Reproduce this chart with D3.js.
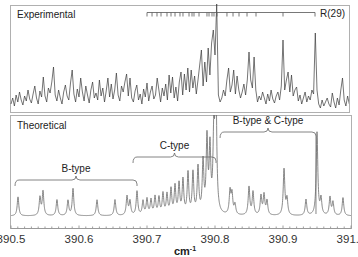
<!DOCTYPE html>
<html>
<head>
<meta charset="utf-8">
<script src="https://cdn.jsdelivr.net/npm/d3@7"></script>
<style>
  body { margin: 0; background: #fff; }
  svg { display: block; font-family: "Liberation Sans", Arial, sans-serif; }
</style>
</head>
<body>
<div id="chart"></div>
<script>
// wavenumber axis (cm-1)
const waveDomain = [390.5, 391.0];
const majorTicks = [390.5, 390.6, 390.7, 390.8, 390.9, 391.0];
const tickLabels = ["390.5", "390.6", "390.7", "390.8", "390.9", "391.0"];

// experimental trace, sampled from 390.5 every 0.0025 cm-1
const expStart = 390.5;
const expStep = 0.0025;
const expIntensity = [
  6,12,4,15,8,18,10,5,14,9,
  20,11,7,16,24,12,6,19,13,33,
  14,8,22,17,28,43,15,9,20,12,
  6,18,25,14,10,27,40,16,8,21,
  13,32,18,9,24,15,7,20,28,12,
  17,10,30,14,22,8,19,32,13,26,
  11,20,37,15,9,24,18,28,36,14,
  32,12,8,19,25,10,16,6,21,13,
  27,9,18,24,11,15,32,20,8,22,
  14,26,10,35,17,33,12,23,9,28,
  38,15,36,20,42,18,40,22,34,16,
  30,45,60,24,48,28,62,35,67,80,
  55,106,15,8,12,20,14,30,42,18,
  25,40,16,34,20,12,18,26,15,30,
  58,30,22,53,20,8,14,10,18,12,
  6,16,9,20,11,7,14,18,10,24,
  70,20,30,38,18,35,14,20,23,9,
  15,6,12,18,8,14,10,20,16,77,
  20,6,2,10,4,8,12,6,3,17,
  8,2,12,5,20,32,10,4,14,6,
  9
];

// R-branch assignment comb, ending at R(29)
const combLines = [
  390.7000, 390.7074, 390.7147, 390.7206, 390.7294, 390.7353, 390.7412,
  390.7485, 390.7529, 390.7618, 390.7662, 390.7691, 390.7765, 390.7882,
  390.7912, 390.7956, 390.7985, 390.8029, 390.8176, 390.8265, 390.8353,
  390.8471, 390.8603, 390.9000, 390.9471
];
const combLabel = "R(29)";

// theoretical line list: positions and peak heights
const theoLines = [
  390.5103, 390.5426, 390.5471, 390.5676, 390.5838, 390.5912, 390.6265,
  390.6529, 390.6706, 390.6750, 390.6853,
  390.6941, 390.7000, 390.7059, 390.7118, 390.7176, 390.7235, 390.7294,
  390.7353, 390.7412, 390.7471, 390.7529, 390.7603, 390.7676, 390.7750,
  390.7824, 390.7882, 390.7926, 390.7982, 390.8012,
  390.8221, 390.8250, 390.8294, 390.8500, 390.8559, 390.8676, 390.8721,
  390.8765, 390.9015, 390.9059, 390.9338, 390.9500, 390.9559, 390.9691,
  390.9735, 390.9882
];
const theoHeights = [
  19, 18, 24, 16, 15, 27, 16,
  16, 19, 14, 24,
  14, 16, 15, 18, 17, 21, 20,
  25, 28, 30, 34, 41, 41, 46,
  51, 73, 63, 70, 140,
  23, 20, 10, 28, 23, 19, 20,
  14, 46, 16, 16, 83, 16, 18,
  13, 18
];
const lineWidth = 0.0014;

// band-type braces (wavenumber span, height in theoretical units)
const braceLabels = ["B-type", "C-type", "B-type & C-type"];
const braceFrom = [390.5059, 390.6794, 390.8074];
const braceTo = [390.6853, 390.8015, 390.9485];
const braceLevel = [36, 59, 84];

class SpectrumVis {

  constructor(parentElement) {
    this.parentElement = parentElement;
    this.initVis();
  }

  initVis() {
    let vis = this;

    vis.width = 358;
    vis.height = 257;

    vis.svg = d3.select("#" + vis.parentElement).append("svg")
      .attr("width", vis.width)
      .attr("height", vis.height);

    vis.x = d3.scaleLinear().domain(waveDomain).range([11, 351]);
    vis.yExp = d3.scaleLinear().domain([0, 100]).range([110, 10]);
    vis.yTheo = d3.scaleLinear().domain([0, 100]).range([216, 116]);

    vis.top = {x: 10, y: 5, w: 339, h: 107};
    vis.bottom = {x: 10, y: 115, w: 341, h: 113};

    let defs = vis.svg.append("defs");
    defs.append("clipPath").attr("id", "clip-top").append("rect")
      .attr("x", vis.top.x).attr("y", vis.top.y - 1).attr("width", vis.top.w).attr("height", vis.top.h + 1);
    defs.append("clipPath").attr("id", "clip-bottom").append("rect")
      .attr("x", vis.bottom.x).attr("y", vis.bottom.y).attr("width", vis.bottom.w).attr("height", vis.bottom.h);

    [vis.top, vis.bottom].forEach(p => {
      vis.svg.append("rect")
        .attr("x", p.x + 0.5).attr("y", p.y + 0.5)
        .attr("width", p.w).attr("height", p.h)
        .attr("fill", "none")
        .attr("stroke", "#b0b0b0")
        .attr("stroke-width", 1);
    });

    vis.drawExperimental();
    vis.drawTheoretical();
    vis.drawAxis();
  }

  drawExperimental() {
    let vis = this;

    let points = expIntensity.map((d, i) => [expStart + i * expStep, d]);

    vis.svg.append("path")
      .datum(points)
      .attr("clip-path", "url(#clip-top)")
      .attr("fill", "none")
      .attr("stroke", "#3a3a3a")
      .attr("stroke-width", 0.7)
      .attr("d", d3.line().x(d => vis.x(d[0])).y(d => vis.yExp(d[1])));

    vis.svg.append("text")
      .attr("x", 17).attr("y", 18)
      .attr("font-size", "10px")
      .attr("fill", "#222")
      .text("Experimental");

    // assignment comb
    let combY = 12.5;
    let comb = vis.svg.append("g")
      .attr("stroke", "#555")
      .attr("stroke-width", 0.8);

    comb.append("line")
      .attr("x1", vis.x(combLines[0])).attr("x2", vis.x(combLines[combLines.length - 1]))
      .attr("y1", combY).attr("y2", combY);

    comb.selectAll("line.tick")
      .data(combLines)
      .join("line")
      .attr("class", "tick")
      .attr("x1", d => vis.x(d)).attr("x2", d => vis.x(d))
      .attr("y1", combY).attr("y2", combY + 4);

    vis.svg.append("text")
      .attr("x", vis.x(combLines[combLines.length - 1]) + 5)
      .attr("y", 17)
      .attr("font-size", "10px")
      .attr("fill", "#222")
      .text(combLabel);
  }

  drawTheoretical() {
    let vis = this;

    // lorentzian profile of the line list
    let grid = d3.range(waveDomain[0], waveDomain[1] + 0.0002, 0.0002);
    theoLines.forEach(v => grid.push(v));
    grid.sort((a, b) => a - b);
    let g2 = lineWidth * lineWidth;
    let profile = grid.map(v => {
      let s = 0;
      theoLines.forEach((c, i) => {
        s += theoHeights[i] * g2 / ((v - c) * (v - c) + g2);
      });
      return [v, s];
    });

    vis.svg.append("path")
      .datum(profile)
      .attr("clip-path", "url(#clip-bottom)")
      .attr("fill", "none")
      .attr("stroke", "#6a6a6a")
      .attr("stroke-width", 0.8)
      .attr("d", d3.line().x(d => vis.x(d[0])).y(d => vis.yTheo(d[1])));

    vis.svg.append("text")
      .attr("x", 17).attr("y", 129)
      .attr("font-size", "10px")
      .attr("fill", "#222")
      .text("Theoretical");

    // braces
    braceLabels.forEach((label, i) => {
      let x1 = vis.x(braceFrom[i]);
      let x2 = vis.x(braceTo[i]);
      let y = vis.yTheo(braceLevel[i]);
      let xm = (x1 + x2) / 2;
      let r = 4;
      let drop = i === 2 ? vis.yTheo(0) - 2 - y : 6;
      let path = `M${x1},${y + 6}Q${x1},${y} ${x1 + r},${y}` +
        `L${xm - r},${y}Q${xm},${y} ${xm},${y - r}Q${xm},${y} ${xm + r},${y}` +
        `L${x2 - r},${y}Q${x2},${y} ${x2},${y + r}L${x2},${y + Math.max(drop, 6)}`;
      vis.svg.append("path")
        .attr("d", path)
        .attr("fill", "none")
        .attr("stroke", "#666")
        .attr("stroke-width", 0.8);
      vis.svg.append("text")
        .attr("x", xm).attr("y", y - 8)
        .attr("text-anchor", "middle")
        .attr("font-size", "10px")
        .attr("fill", "#222")
        .text(label);
    });
  }

  drawAxis() {
    let vis = this;
    let axisY = 228.5;

    let minor = d3.range(0, 51).map(i => waveDomain[0] + i * 0.01);
    vis.svg.append("g")
      .selectAll("line")
      .data(minor)
      .join("line")
      .attr("x1", d => vis.x(d)).attr("x2", d => vis.x(d))
      .attr("y1", axisY).attr("y2", (d, i) => i % 10 === 0 ? axisY - 3 : axisY - 2)
      .attr("stroke", "#888")
      .attr("stroke-width", 0.8);

    vis.svg.append("line")
      .attr("x1", vis.x(waveDomain[0])).attr("x2", vis.x(waveDomain[1]))
      .attr("y1", axisY).attr("y2", axisY)
      .attr("stroke", "#999")
      .attr("stroke-width", 1);

    // end labels run off the edges, as in the original figure
    vis.svg.append("g")
      .selectAll("text")
      .data(majorTicks)
      .join("text")
      .attr("x", d => vis.x(d))
      .attr("y", 243)
      .attr("text-anchor", "middle")
      .attr("font-size", "11.5px")
      .attr("fill", "#333")
      .text((d, i) => tickLabels[i]);

    let title = vis.svg.append("text")
      .attr("x", 185).attr("y", 255)
      .attr("text-anchor", "middle")
      .attr("font-size", "11px")
      .attr("font-weight", "bold")
      .attr("fill", "#222");
    title.append("tspan").text("cm");
    title.append("tspan").attr("dy", -4).attr("font-size", "7px").text("-1");
  }
}

new SpectrumVis("chart");
</script>
</body>
</html>
